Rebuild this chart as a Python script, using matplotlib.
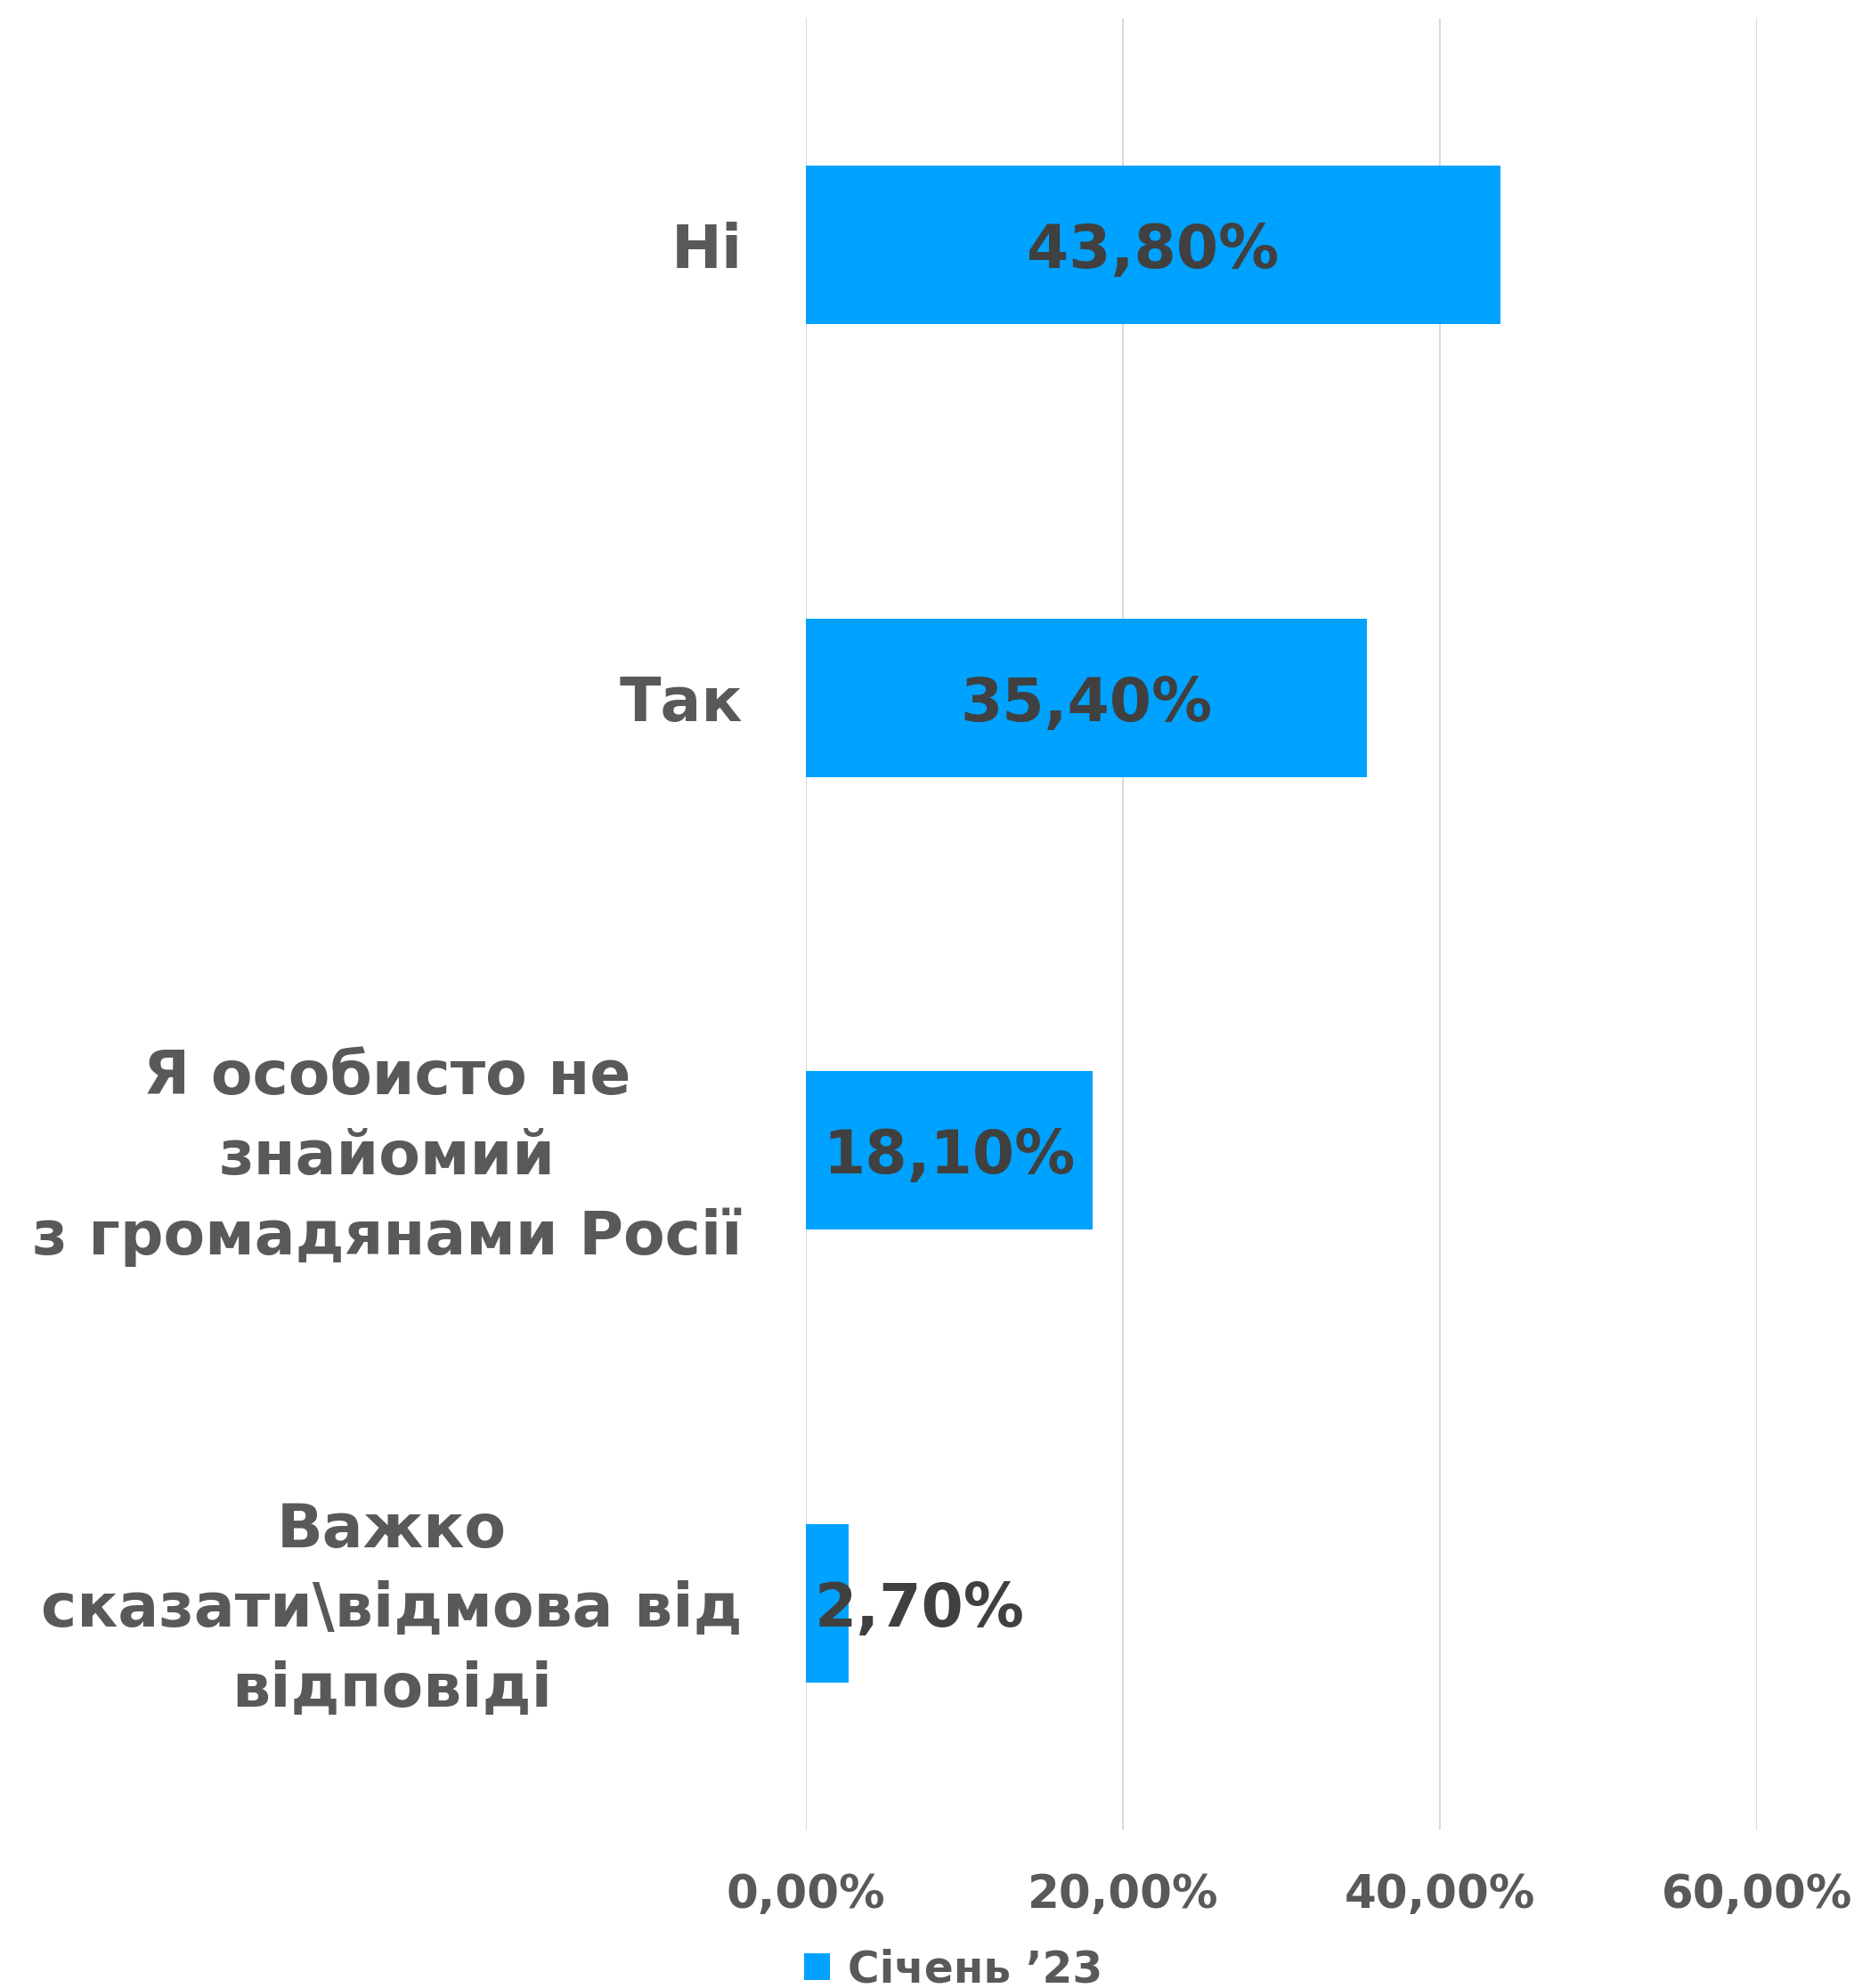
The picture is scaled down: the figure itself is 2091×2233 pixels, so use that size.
import matplotlib
matplotlib.use("Agg")
import matplotlib.pyplot as plt
import matplotlib.transforms as mtransforms
from matplotlib.ticker import FuncFormatter

categories = ["Ні", "Так", "Я особисто не\nзнайомий\nз громадянами Росії",
              "Важко\nсказати\\відмова від\nвідповіді"]
values = [43.8, 35.4, 18.1, 2.7]
series_name = "Січень \u201923"
xticks = [0, 20, 40, 60]

bar_color = "#00A2FF"
label_color = "#595959"
value_color = "#404040"
grid_color = "#D9D9D9"

plt.rcParams["font.family"] = ["DejaVu Sans"]
plt.rcParams["font.weight"] = "bold"

fig = plt.figure(figsize=(20.91, 22.33), dpi=100)
ax = fig.add_axes([0.4326, 0.0797, 0.5110, 0.9109])

y = list(range(len(categories)))
ax.barh(y, values, height=0.35, color=bar_color, label=series_name, zorder=3)
ax.set_ylim(len(categories) - 0.5, -0.5)
ax.set_xlim(0, 60)

for yi, v in zip(y, values):
    txt = f"{v:.2f}%".replace(".", ",")
    if v > 10:
        ax.text(v / 2, yi, txt, ha="center", va="center_baseline", fontsize=49,
                fontweight="bold", color=value_color, zorder=4)
    else:
        ax.text(v * 0.2, yi, txt, ha="left", va="center_baseline", fontsize=49,
                fontweight="bold", color=value_color, zorder=4)

ax.set_yticks(y)
ax.set_yticklabels(categories, fontsize=49, fontweight="bold", color=label_color,
                   ha="right", multialignment="center", linespacing=1.45)
ax.set_xticks(xticks)
ax.xaxis.set_major_formatter(FuncFormatter(lambda v, p: f"{v:.2f}%".replace(".", ",")))
ax.tick_params(axis="x", length=0, pad=35, labelsize=37, labelcolor=label_color)
ax.tick_params(axis="y", length=0, pad=51)
for lab in ax.get_xticklabels():
    lab.set_fontweight("bold")

# nudge the multi-line labels up a little
for lab in ax.get_yticklabels():
    if "\n" in lab.get_text():
        lab.set_transform(lab.get_transform() +
                          mtransforms.ScaledTranslation(0, 0.11, fig.dpi_scale_trans))

ax.xaxis.grid(True, color=grid_color, linewidth=1.5, zorder=0)
ax.yaxis.grid(False)
for s in ax.spines.values():
    s.set_visible(False)

leg = fig.legend(loc="lower center", bbox_to_anchor=(0.512, -0.021), frameon=False,
                 handlelength=0.6, handleheight=0.6, handletextpad=0.4,
                 prop={"weight": "bold", "size": 35})
for t in leg.get_texts():
    t.set_color(label_color)

fig.savefig("out.png", dpi=100, facecolor="white")
